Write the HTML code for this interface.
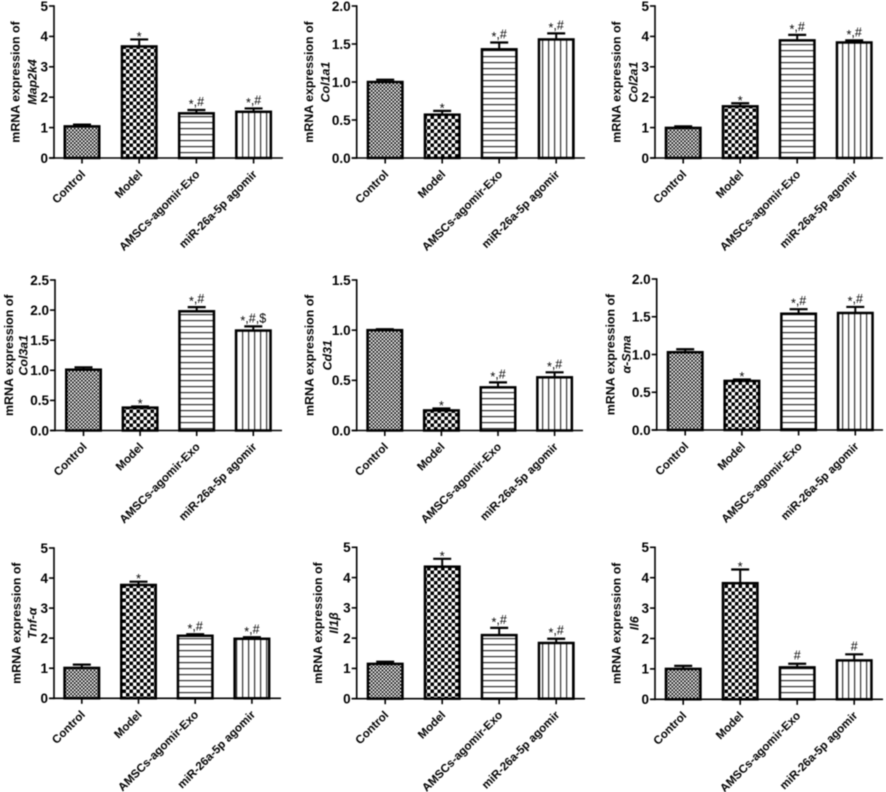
<!DOCTYPE html>
<html lang="en">
<head>
<meta charset="utf-8">
<title>mRNA expression bar charts</title>
<style>
  html, body { margin: 0; padding: 0; background: #fff; width: 886px; height: 792px; overflow: hidden; }
  #figure { display: block; filter: blur(0.5px); }
  text { font-family: "Liberation Sans", Arial, sans-serif; fill: #000; }
</style>
</head>
<body>
<svg id="figure" xmlns="http://www.w3.org/2000/svg" width="886" height="792" viewBox="0 0 886 792">
  <defs>
    <pattern id="fill-control" patternUnits="userSpaceOnUse" width="3.6" height="3.6">
      <rect width="3.6" height="3.6" fill="#fff"/>
      <rect width="1.8" height="1.8" fill="#111"/>
      <rect x="1.8" y="1.8" width="1.8" height="1.8" fill="#111"/>
    </pattern>
    <pattern id="fill-model" patternUnits="userSpaceOnUse" width="7" height="7">
      <rect width="7" height="7" fill="#fff"/>
      <rect width="3.5" height="3.5" fill="#000"/>
      <rect x="3.5" y="3.5" width="3.5" height="3.5" fill="#000"/>
    </pattern>
    <pattern id="fill-exo" patternUnits="userSpaceOnUse" width="6" height="6">
      <rect width="6" height="6" fill="#fff"/>
      <rect y="2" width="6" height="1.2" fill="#333"/>
    </pattern>
    <pattern id="fill-agomir" patternUnits="userSpaceOnUse" width="6" height="6">
      <rect width="6" height="6" fill="#fff"/>
      <rect x="2" width="1.2" height="6" fill="#333"/>
    </pattern>
  </defs>
</svg>
<script>
// ---- Shared categories ----
const categories = ['Control', 'Model', 'AMSCs-agomir-Exo', 'miR-26a-5p agomir'];

// ---- Tick labels ----
const ticksFive = ['0', '1', '2', '3', '4', '5'];
const ticksTwo = ['0.0', '0.5', '1.0', '1.5', '2.0'];
const ticksTwoFive = ['0.0', '0.5', '1.0', '1.5', '2.0', '2.5'];
const ticksOneFive = ['0.0', '0.5', '1.0', '1.5'];

// ---- Series: mean values and upper error bar values ----
const map2k4Values = [1.04, 3.67, 1.47, 1.52];
const map2k4Upper = [1.10, 3.90, 1.58, 1.63];
const map2k4Marks = ['', '*', '*,#', '*,#'];

const col1a1Values = [1.00, 0.57, 1.43, 1.56];
const col1a1Upper = [1.03, 0.62, 1.52, 1.64];
const col1a1Marks = ['', '*', '*,#', '*,#'];

const col2a1Values = [0.99, 1.70, 3.87, 3.80];
const col2a1Upper = [1.04, 1.80, 4.05, 3.87];
const col2a1Marks = ['', '*', '*,#', '*,#'];

const col3a1Values = [1.01, 0.38, 1.98, 1.66];
const col3a1Upper = [1.05, 0.40, 2.05, 1.73];
const col3a1Marks = ['', '*', '*,#', '*,#,$'];

const cd31Values = [1.00, 0.20, 0.43, 0.53];
const cd31Upper = [1.01, 0.22, 0.48, 0.58];
const cd31Marks = ['', '*', '*,#', '*,#'];

const smaValues = [1.03, 0.65, 1.54, 1.55];
const smaUpper = [1.07, 0.67, 1.60, 1.63];
const smaMarks = ['', '*', '*,#', '*,#'];

const tnfValues = [1.01, 3.77, 2.08, 1.98];
const tnfUpper = [1.12, 3.88, 2.13, 2.03];
const tnfMarks = ['', '*', '*,#', '*,#'];

const il1bValues = [1.15, 4.36, 2.10, 1.84];
const il1bUpper = [1.22, 4.62, 2.34, 1.98];
const il1bMarks = ['', '*', '*,#', '*,#'];

const il6Values = [1.00, 3.82, 1.05, 1.28];
const il6Upper = [1.10, 4.27, 1.17, 1.48];
const il6Marks = ['', '*', '#', '#'];

// ---- Panel wiring and layout ----
const panels = [
  { id: 'map2k4', gene: 'Map2k4', values: map2k4Values, upper: map2k4Upper, marks: map2k4Marks, ticks: ticksFive, max: 5, ax: 54, y0: 158, top: 6, end: 283, first: 63.5, step: 57.2, t1: 15, t2: 32 },
  { id: 'col1a1', gene: 'Col1a1', values: col1a1Values, upper: col1a1Upper, marks: col1a1Marks, ticks: ticksTwo, max: 2, ax: 356.7, y0: 158, top: 6, end: 585, first: 366.7, step: 57, t1: 308.7, t2: 325 },
  { id: 'col2a1', gene: 'Col2a1', values: col2a1Values, upper: col2a1Upper, marks: col2a1Marks, ticks: ticksFive, max: 5, ax: 655, y0: 158, top: 6, end: 883, first: 664.7, step: 57, t1: 616, t2: 633 },
  { id: 'col3a1', gene: 'Col3a1', values: col3a1Values, upper: col3a1Upper, marks: col3a1Marks, ticks: ticksTwoFive, max: 2.5, ax: 55, y0: 430.5, top: 280, end: 282, first: 65, step: 56.6, t1: 8.3, t2: 23 },
  { id: 'cd31', gene: 'Cd31', values: cd31Values, upper: cd31Upper, marks: cd31Marks, ticks: ticksOneFive, max: 1.5, ax: 356.7, y0: 430.5, top: 280, end: 583, first: 366.3, step: 56.6, t1: 309, t2: 327 },
  { id: 'sma', gene: '\u03b1-Sma', values: smaValues, upper: smaUpper, marks: smaMarks, ticks: ticksTwo, max: 2, ax: 656.7, y0: 430, top: 279, end: 883, first: 666.7, step: 56.7, t1: 610, t2: 626 },
  { id: 'tnf', gene: 'Tnf-\u03b1', values: tnfValues, upper: tnfUpper, marks: tnfMarks, ticks: ticksFive, max: 5, ax: 54, y0: 698.3, top: 548, end: 281, first: 63.3, step: 56.7, t1: 16, t2: 32 },
  { id: 'il1b', gene: 'Il1\u03b2', values: il1bValues, upper: il1bUpper, marks: il1bMarks, ticks: ticksFive, max: 5, ax: 356.7, y0: 698.7, top: 547.3, end: 585, first: 366.7, step: 57, t1: 317.7, t2: 333.7 },
  { id: 'il6', gene: 'Il6', values: il6Values, upper: il6Upper, marks: il6Marks, ticks: ticksFive, max: 5, ax: 655, y0: 699.3, top: 547.3, end: 883, first: 664.7, step: 57, t1: 616, t2: 634 }
];

const barFills = ['url(#fill-control)', 'url(#fill-model)', 'url(#fill-exo)', 'url(#fill-agomir)'];
const BAR_W = 37;
const CAP_W = 18;
const NS = 'http://www.w3.org/2000/svg';
const svg = document.getElementById('figure');

function make(tag, parent, attrs, content) {
  const node = document.createElementNS(NS, tag);
  Object.keys(attrs).forEach(function (k) { node.setAttribute(k, attrs[k]); });
  if (content !== undefined) node.textContent = content;
  parent.appendChild(node);
  return node;
}

// Writes a mark such as "*,#", dropping each asterisk to sit level with the other symbols.
function fillMark(textNode, str) {
  let offset = 0;
  str.split('').forEach(function (ch) {
    const want = ch === '*' ? 2.5 : 0;
    make('tspan', textNode, { dy: want - offset }, ch);
    offset = want;
  });
}

panels.forEach(function (p) {
  // Axis functions
  const yScale = function (v) { return p.y0 - (v / p.max) * (p.y0 - p.top); };
  const xLeft = function (i) { return p.first + i * p.step; };
  const xMid = function (i) { return xLeft(i) + BAR_W / 2; };

  const g = make('g', svg, {});
  
  

  // Bars, error bars, significance marks
  categories.forEach(function (cat, i) {
    const topY = yScale(p.values[i]);
    const errY = yScale(p.upper[i]);

    const stem = make('line', g, { x1: xMid(i), x2: xMid(i), y1: topY, y2: errY, stroke: '#000', 'stroke-width': 2 });
    
    

    const cap = make('line', g, { x1: xMid(i) - CAP_W / 2, x2: xMid(i) + CAP_W / 2, y1: errY, y2: errY, stroke: '#000', 'stroke-width': 2.2 });
    
    

    const bar = make('rect', g, { x: xLeft(i) + 1.25, y: topY, width: BAR_W - 2.5, height: p.y0 - topY, fill: barFills[i], stroke: '#000', 'stroke-width': 2.5 });
    
    

    if (p.marks[i]) {
      const onlyStar = p.marks[i] === '*';
      if (onlyStar) {
        const star = make('text', g, { x: xMid(i), y: errY + 1.5, 'text-anchor': 'middle', 'font-size': 13 }, p.marks[i]);
        
        
      } else {
        const mark = make('text', g, { x: xMid(i), y: errY - 4, 'text-anchor': 'middle', 'font-size': 12.5 });
        fillMark(mark, p.marks[i]);
        
        
      }
    }

    const xTick = make('line', g, { x1: xMid(i), x2: xMid(i), y1: p.y0, y2: p.y0 + 5.5, stroke: '#000', 'stroke-width': 1.6 });
    
    

    const lx = xMid(i) + 4;
    const ly = p.y0 + 17;
    const xLabel = make('text', g, { x: lx, y: ly, 'text-anchor': 'end', 'font-size': 11.6, 'font-weight': 'bold', transform: 'rotate(-45 ' + lx + ' ' + ly + ')' }, cat);
    
    
  });

  // Axes
  const yAxis = make('line', g, { x1: p.ax, x2: p.ax, y1: p.top - 0.8, y2: p.y0 + 0.8, stroke: '#000', 'stroke-width': 1.6 });
  
  

  const xAxis = make('line', g, { x1: p.ax - 5, x2: p.end, y1: p.y0, y2: p.y0, stroke: '#000', 'stroke-width': 1.6 });
  
  

  // Y ticks and labels
  p.ticks.forEach(function (label) {
    const ty = yScale(parseFloat(label));
    const yTick = make('line', g, { x1: p.ax - 5, x2: p.ax, y1: ty, y2: ty, stroke: '#000', 'stroke-width': 1.6 });
    
    

    const yLabel = make('text', g, { x: p.ax - 6, y: ty + 4.8, 'text-anchor': 'end', 'font-size': 13.5, 'font-weight': 'bold' }, label);
    
    
  });

  // Axis title
  const midY = (p.y0 + p.top) / 2;
  const bx1 = p.t1 + 4.5;
  const bx2 = p.t2 + 4.5;
  const title1 = make('text', g, { x: bx1, y: midY, 'text-anchor': 'middle', 'font-size': 12.4, 'font-weight': 'bold', transform: 'rotate(-90 ' + bx1 + ' ' + midY + ')' }, 'mRNA expression of');
  
  

  const title2 = make('text', g, { x: bx2, y: midY, 'text-anchor': 'middle', 'font-size': 12.4, 'font-weight': 'bold', 'font-style': 'italic', transform: 'rotate(-90 ' + bx2 + ' ' + midY + ')' }, p.gene);
  
  
});
</script>
</body>
</html>
